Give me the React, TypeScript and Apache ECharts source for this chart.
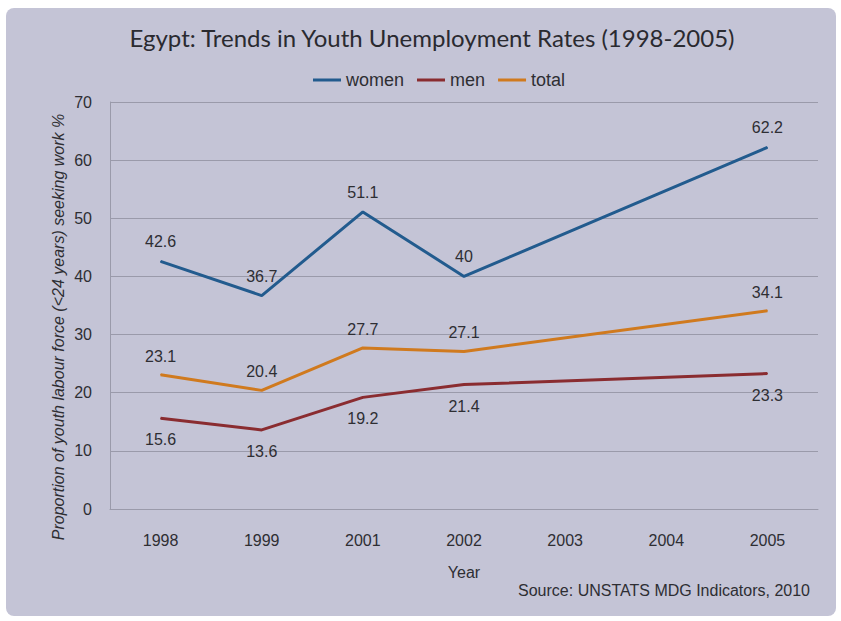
import React, { useEffect, useRef } from "react";
import * as echarts from "echarts";

const years = ["1998", "1999", "2001", "2002", "2003", "2004", "2005"];
const women = [42.6, 36.7, 51.1, 40, null, null, 62.2];
const men = [15.6, 13.6, 19.2, 21.4, null, null, 23.3];
const total = [23.1, 20.4, 27.7, 27.1, null, null, 34.1];
const yTicks = { min: 0, max: 70, interval: 10 };

const SANS = "'Liberation Sans', Arial, sans-serif";
const TXT = "#2e2e33";

export default function App() {
  const ref = useRef<HTMLDivElement>(null);
  useEffect(() => {
    if (!ref.current) return;
    const chart = echarts.init(ref.current, null, { renderer: "svg" });
    const mk = (name: string, data: (number | null)[], color: string, pos: string, dist: number) => ({
      name,
      type: "line",
      data,
      connectNulls: true,
      symbol: "circle",
      symbolSize: 1,
      showSymbol: true,
      itemStyle: { color },
      lineStyle: { color, width: 3 },
      emphasis: { disabled: true },
      label: {
        show: true,
        position: pos,
        distance: dist,
        fontFamily: SANS,
        fontSize: 16,
        color: TXT,
      },
    });
    chart.setOption({
      animation: false,
      backgroundColor: "#ffffff",
      title: {
        text: "Egypt: Trends in Youth Unemployment Rates (1998-2005)",
        left: 427,
        textAlign: "center",
        top: 20,
        textStyle: { fontFamily: "Lato, 'Open Sans', sans-serif", fontSize: 24, fontWeight: "normal", color: "#2a2a30" },
      },
      legend: {
        data: ["women", "men", "total"],
        left: 308,
        top: 66,
        icon: "rect",
        itemWidth: 28,
        itemHeight: 3,
        itemGap: 13,
        textStyle: { fontFamily: SANS, fontSize: 18, color: TXT },
      },
      graphic: [
        {
          type: "rect",
          z: -10,
          silent: true,
          shape: { x: 6, y: 8, width: 830, height: 608, r: 8 },
          style: { fill: "#c4c4d6" },
        },
        {
          type: "text",
          x: 58,
          y: 327,
          rotation: Math.PI / 2,
          style: {
            text: "Proportion of youth labour force (<24 years) seeking work %",
            fontFamily: SANS,
            fontStyle: "italic",
            fontSize: 16,
            fill: TXT,
            align: "center",
            verticalAlign: "middle",
          },
        },
        {
          type: "text",
          x: 464,
          y: 572,
          style: {
            text: "Year",
            fontFamily: SANS,
            fontSize: 16,
            fill: TXT,
            align: "center",
            verticalAlign: "middle",
          },
        },
        {
          type: "text",
          x: 810,
          y: 590,
          style: {
            text: "Source: UNSTATS MDG Indicators, 2010",
            fontFamily: SANS,
            fontSize: 16,
            fill: TXT,
            align: "right",
            verticalAlign: "middle",
          },
        },
      ],
      grid: { left: 110, right: 23, top: 102, bottom: 112, containLabel: false },
      xAxis: {
        type: "category",
        data: years,
        boundaryGap: true,
        axisTick: { show: false },
        axisLine: { show: true, lineStyle: { color: "#9a9aaa", width: 1 } },
        axisLabel: { fontFamily: SANS, fontSize: 16, color: TXT, margin: 23 },
      },
      yAxis: {
        type: "value",
        min: yTicks.min,
        max: yTicks.max,
        interval: yTicks.interval,
        axisTick: { show: false },
        axisLine: { show: true, lineStyle: { color: "#9a9aaa", width: 1 } },
        splitLine: { show: true, lineStyle: { color: "#9a9aaa", width: 1 } },
        axisLabel: { fontFamily: SANS, fontSize: 16, color: TXT, margin: 18 },
      },
      series: [
        mk("women", women, "#225b8e", "top", 11),
        mk("men", men, "#8a2c30", "bottom", 13),
        mk("total", total, "#d07a1e", "top", 10),
      ],
    });
    return () => chart.dispose();
  }, []);
  return (
    <div
      ref={ref}
      style={{ position: "fixed", left: 0, top: 0, width: 841, height: 621 }}
    />
  );
}
